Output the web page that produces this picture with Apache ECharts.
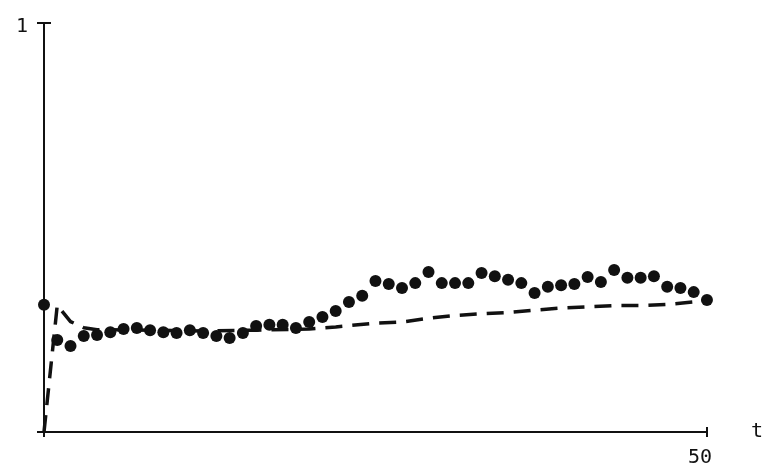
<!DOCTYPE html>
<html>
<head>
<meta charset="utf-8">
<script src="https://cdn.jsdelivr.net/npm/echarts@6/dist/echarts.min.js"></script>
<style>
  html, body { margin: 0; padding: 0; background: #fff; }
  #main { width: 766px; height: 468px; }
</style>
</head>
<body>
<div id="main"></div>
<script>
// observed values, one per step t = 0..50
var dotValues = [
  0.311, 0.225, 0.210, 0.235, 0.237, 0.244, 0.252, 0.254, 0.249, 0.244,
  0.242, 0.249, 0.242, 0.235, 0.230, 0.242, 0.259, 0.262, 0.262, 0.254,
  0.269, 0.281, 0.296, 0.318, 0.333, 0.369, 0.362, 0.352, 0.364, 0.391,
  0.364, 0.364, 0.364, 0.389, 0.381, 0.372, 0.364, 0.340, 0.355, 0.359,
  0.362, 0.379, 0.367, 0.396, 0.377, 0.377, 0.381, 0.355, 0.352, 0.342,
  0.323
];

// dashed curve, read at these steps
var dashT = [0, 1, 2, 3, 4, 5, 8, 12, 16, 20, 22, 25, 27, 29, 31, 33, 35, 37, 39, 41, 43, 45, 47, 49, 50];
var dashValues = [0, 0.31, 0.27, 0.255, 0.25, 0.25, 0.249, 0.247, 0.249, 0.252, 0.257, 0.266, 0.269,
  0.278, 0.285, 0.289, 0.292, 0.298, 0.303, 0.306, 0.309, 0.309, 0.312, 0.318, 0.323];

var xTicks = [0, 50];   // only 50 is labelled
var yTicks = [0, 1];    // only 1 is labelled

var dots = dotValues.map(function (v, i) { return [i, v]; });
var dashed = dashT.map(function (t, i) { return [t, dashValues[i]]; });

var font = '"DejaVu Sans Mono", monospace';
var ink = '#111';

var myChart = echarts.init(document.getElementById('main'));

var option = {
  backgroundColor: '#fff',
  animation: false,
  grid: { left: 44, right: 59, top: 23, bottom: 36 },
  xAxis: [
    {
      type: 'value', min: xTicks[0], max: xTicks[1], interval: xTicks[1] - xTicks[0],
      name: 't', nameLocation: 'end', nameGap: 44,
      nameTextStyle: { fontFamily: font, fontSize: 20, color: ink, verticalAlign: 'middle', padding: [4, 0, 0, 0] },
      axisLine: { lineStyle: { color: ink, width: 2 } },
      axisTick: { show: true, length: 5, lineStyle: { color: ink, width: 2 } },
      axisLabel: {
        margin: 12, fontFamily: font, fontSize: 20, color: ink, padding: [4, 14, 0, 0],
        formatter: function (v) { return v === 0 ? '' : String(v); }
      },
      splitLine: { show: false }
    },
    {
      type: 'value', min: xTicks[0], max: xTicks[1], interval: xTicks[1] - xTicks[0],
      position: 'bottom',
      axisLine: { show: false },
      axisTick: { show: true, inside: true, length: 5, lineStyle: { color: ink, width: 2 } },
      axisLabel: { show: false },
      splitLine: { show: false }
    }
  ],
  yAxis: [
    {
      type: 'value', min: yTicks[0], max: yTicks[1], interval: yTicks[1] - yTicks[0],
      axisLine: { show: true, lineStyle: { color: ink, width: 2 } },
      axisTick: { show: true, length: 7, lineStyle: { color: ink, width: 2 } },
      axisLabel: {
        margin: 16, fontFamily: font, fontSize: 20, color: ink,
        verticalAlign: 'top', lineHeight: 8,
        formatter: function (v) { return v === 0 ? '' : String(v); }
      },
      splitLine: { show: false }
    },
    {
      type: 'value', min: yTicks[0], max: yTicks[1], interval: yTicks[1] - yTicks[0],
      position: 'left',
      axisLine: { show: false },
      axisTick: { show: true, inside: true, length: 7, lineStyle: { color: ink, width: 2 } },
      axisLabel: { show: false },
      splitLine: { show: false }
    }
  ],
  series: [
    {
      type: 'line',
      data: dashed,
      showSymbol: false,
      symbol: 'none',
      lineStyle: { color: ink, width: 3.5, type: [17, 10] },
      z: 2
    },
    {
      type: 'scatter',
      data: dots,
      symbol: 'circle',
      symbolSize: 12,
      itemStyle: { color: ink, opacity: 1 },
      z: 3
    }
  ]
};
myChart.setOption(option);
</script>
</body>
</html>
